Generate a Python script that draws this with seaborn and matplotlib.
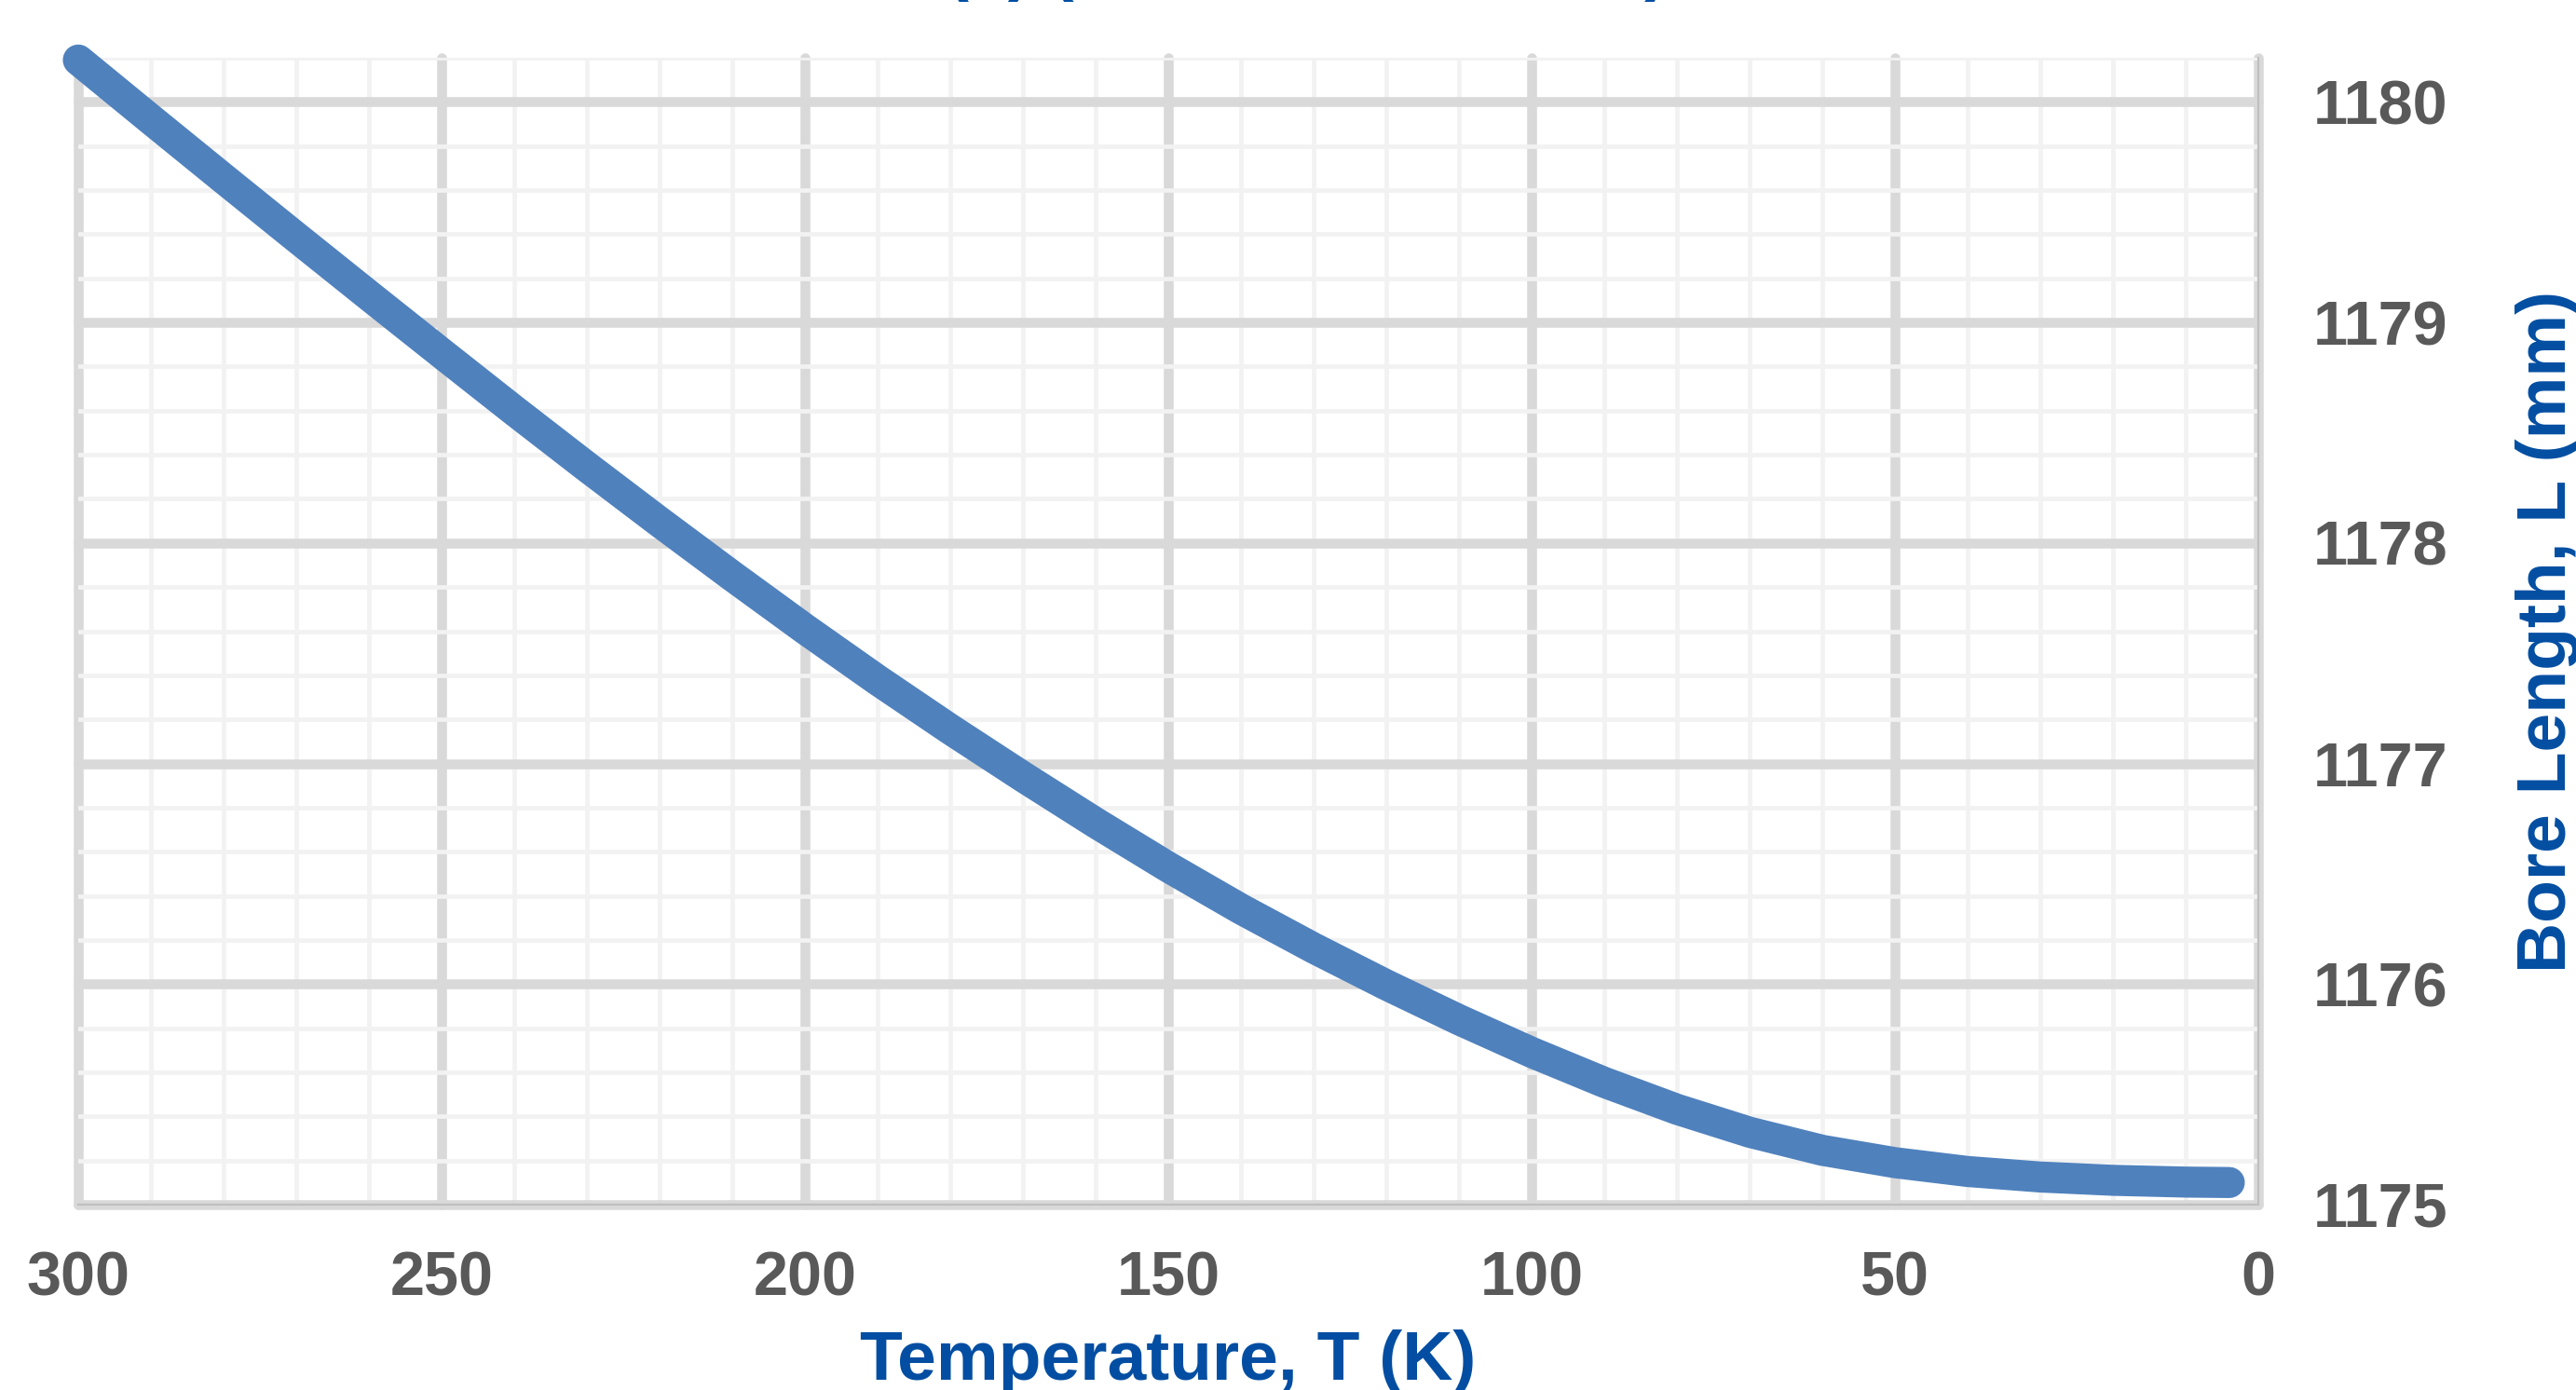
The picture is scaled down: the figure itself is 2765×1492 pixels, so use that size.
import numpy as np
import pandas as pd
import matplotlib
matplotlib.use("Agg")
import matplotlib.pyplot as plt
from matplotlib.ticker import MultipleLocator
import seaborn as sns

# Bore length vs temperature
temperature = [300, 290, 280, 270, 260, 250, 240, 230, 220, 210, 200, 190, 180, 170,
               160, 150, 140, 130, 120, 110, 100, 90, 80, 70, 60, 50, 40, 30, 20, 10, 4]
bore_length = [1180.190, 1179.920, 1179.652, 1179.386, 1179.122, 1178.860, 1178.600,
               1178.345, 1178.095, 1177.850, 1177.610, 1177.378, 1177.155, 1176.940,
               1176.731, 1176.530, 1176.340, 1176.163, 1175.996, 1175.838, 1175.690,
               1175.554, 1175.432, 1175.328, 1175.246, 1175.190, 1175.150, 1175.125,
               1175.110, 1175.102, 1175.100]

x_ticks = [300, 250, 200, 150, 100, 50, 0]
y_ticks = [1175, 1176, 1177, 1178, 1179, 1180]

title_text = "(a) (Cold Bore Shrink)"
x_label = "Temperature, T (K)"
y_label = "Bore Length, L (mm)"

df = pd.DataFrame({"T": temperature, "L": bore_length})

sns.set_theme(style="white")
plt.rcParams["font.family"] = ["Liberation Sans", "DejaVu Sans"]
plt.rcParams["font.weight"] = "bold"

blue_text = "#034EA2"
grey_text = "#595959"

fig = plt.figure(figsize=(13.825, 7.46), dpi=200)
ax = fig.add_axes([0.0304, 0.1334, 0.8463, 0.825])

sns.lineplot(data=df, x="T", y="L", ax=ax, color="#4F81BD", linewidth=12,
             solid_capstyle="round", solid_joinstyle="round", zorder=5, clip_on=False)

ax.set_xlim(300, 0)
ax.set_ylim(1175, 1180.2)
ax.set_xticks(x_ticks)
ax.set_yticks(y_ticks)
ax.xaxis.set_minor_locator(MultipleLocator(10))
ax.yaxis.set_minor_locator(MultipleLocator(0.2))

ax.set_axisbelow(True)
ax.grid(which="major", color="#d9d9d9", linewidth=3.8)
ax.grid(which="minor", color="#f2f2f2", linewidth=1.7)
for gl in ax.xaxis.get_gridlines() + ax.yaxis.get_gridlines():
    gl.set_clip_on(False)

for side in ["left", "top"]:
    ax.spines[side].set_visible(False)
for side in ["right", "bottom"]:
    ax.spines[side].set_color("#bfbfbf")
    ax.spines[side].set_linewidth(0.8)

ax.yaxis.tick_right()
ax.tick_params(axis="both", which="both", length=0)
ax.tick_params(axis="x", labelsize=24, labelcolor=grey_text, pad=18)
ax.tick_params(axis="y", labelsize=24, labelcolor=grey_text, pad=21)
for lab in ax.get_xticklabels() + ax.get_yticklabels():
    lab.set_fontweight("bold")

ax.set_xlabel(x_label, fontsize=27, fontweight="bold", color=blue_text, va="baseline")
ax.xaxis.set_label_coords(0.5, -0.1527)

ax.yaxis.set_label_position("right")
ax.set_ylabel(y_label, fontsize=27, fontweight="bold", color=blue_text,
              rotation=90, rotation_mode="anchor", ha="center", va="baseline")
ax.yaxis.set_label_coords(1.141, 0.5)

# title sits mostly above the top edge, only the paren tails show
fig.text(0.367, 1.009, title_text, fontsize=27, fontweight="bold", color=blue_text,
         ha="left", va="baseline")

fig.savefig("out.png", dpi=200)
